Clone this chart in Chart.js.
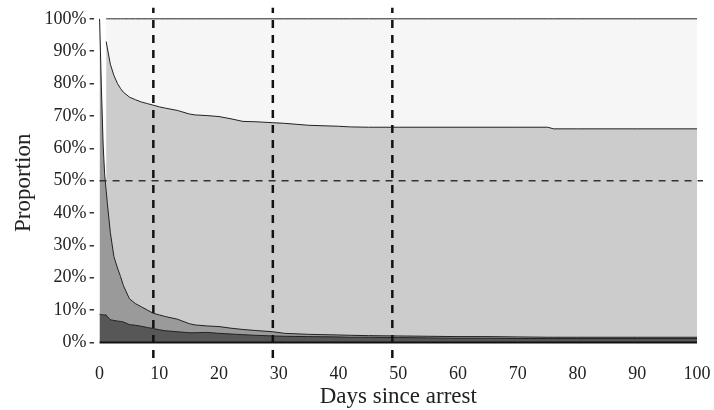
<!DOCTYPE html>
<html lang="en">
<head>
<meta charset="UTF-8">
<title>Proportion by days since arrest</title>
<script src="https://cdn.jsdelivr.net/npm/chart.js"></script>
<style>
  body { margin: 0; background: #fff; }
  canvas { display: block; }
</style>
</head>
<body>

<canvas id="chart" width="714" height="410"></canvas>

<script>
  /*** DATA ***/
  // days since arrest (finer steps in the first two days, where the curves drop fast)
  const days = [0, 0.15, 0.3, 0.45, 0.6, 0.85, 1.1, 1.3, 1.8, 2.4, 3, 3.5, 4, 5, 6, 7, 8, 9, 10, 11,
                13, 15, 16, 18, 20, 22, 24, 26, 29, 31, 35, 40, 42, 45, 50, 55, 60, 65, 70, 75,
                76, 80, 90, 100];

  // cumulative shares (%), bottom band to top band
  const darkTop  = [8.7, 8.6, 8.6, 8.6, 8.5, 8.5, 8.5, 8.0, 7.0, 6.8, 6.6, 6.5, 6.3, 5.5, 5.3, 5.0, 4.6, 4.3, 3.9, 3.6,
                    3.3, 3.0, 3.0, 3.1, 2.8, 2.6, 2.4, 2.2, 2.0, 1.9, 1.8, 1.7, 1.6, 1.6, 1.5, 1.4, 1.3, 1.3, 1.2, 1.2,
                    1.2, 1.2, 1.2, 1.2];
  const midTop   = [100, 90, 79, 70, 61, 52, 47, 43, 34, 26.5, 23, 20.4, 17.5, 13.5, 12, 11, 10, 9, 8.5, 8,
                    7.2, 5.8, 5.4, 5.1, 4.9, 4.4, 4.0, 3.7, 3.3, 2.8, 2.5, 2.3, 2.2, 2.1, 2.0, 1.9, 1.8, 1.8, 1.7, 1.6,
                    1.6, 1.6, 1.6, 1.6];
  const lightTop = [null, null, null, null, null, null, 93, 91, 86, 82.5, 80, 78.5, 77.3, 75.8, 75, 74.3, 73.8, 73.3, 72.8, 72.4,
                    71.7, 70.6, 70.3, 70.1, 69.8, 69.1, 68.3, 68.2, 67.9, 67.7, 67.1, 66.8, 66.6, 66.5, 66.5, 66.5, 66.5, 66.5, 66.5, 66.5,
                    66.0, 66.0, 66.0, 66.0];
  const upperTop = [null, null, null, null, null, null, 100, 100, 100, 100, 100, 100, 100, 100, 100, 100, 100, 100, 100, 100,
                    100, 100, 100, 100, 100, 100, 100, 100, 100, 100, 100, 100, 100, 100, 100, 100, 100, 100, 100, 100,
                    100, 100, 100, 100];

  const markerDays = [9, 29, 49];   // dashed vertical guides
  const halfLine = 50;              // dashed horizontal guide
  const xTicks = [0, 10, 20, 30, 40, 50, 60, 70, 80, 90, 100];
  const yTicks = [0, 10, 20, 30, 40, 50, 60, 70, 80, 90, 100];

  /*** CONFIG ***/
  const X_MIN = -1, X_MAX = 101;
  const Y_MIN = -4.8, Y_MAX = 103.5;
  const SERIF = "'Liberation Serif', 'Times New Roman', serif";
  const TEXT = '#222';

  const pts = (arr) => days.map((d, i) => ({ x: d, y: arr[i] }));

  function band(values, fillColor) {
    return {
      data: pts(values),
      borderColor: '#222',
      borderWidth: 1,
      backgroundColor: fillColor,
      fill: 'origin',
      pointRadius: 0,
      tension: 0,
      spanGaps: false
    };
  }

  function guide(data, width, dash, color) {
    return {
      data: data,
      borderColor: color,
      borderWidth: width,
      borderDash: dash,
      fill: false,
      pointRadius: 0
    };
  }

  // first dataset is drawn on top
  const datasets = [
    ...markerDays.map(d => guide([{ x: d, y: Y_MIN }, { x: d, y: Y_MAX }], 2.5, [8, 7], '#111')),
    guide([{ x: 0, y: halfLine }, { x: X_MAX, y: halfLine }], 1.5, [7, 6], '#333'),
    guide([{ x: 0, y: 0 }, { x: 100, y: 0 }], 2, [], '#111'),
    band(darkTop, '#575757'),
    band(midTop, '#9a9a9a'),
    band(lightTop, '#cccccc'),
    band(upperTop, '#f6f6f6')
  ];

  new Chart(document.getElementById('chart'), {
    type: 'line',
    data: { datasets },
    options: {
      responsive: false,
      animation: false,
      layout: { padding: { top: 7, right: 11, left: 10, bottom: 0 } },
      plugins: { legend: { display: false }, tooltip: { enabled: false } },
      scales: {
        x: {
          type: 'linear',
          min: X_MIN,
          max: X_MAX,
          afterBuildTicks: (s) => { s.ticks = xTicks.map(v => ({ value: v })); },
          grid: { display: false, drawTicks: false, tickLength: 0 },
          border: { display: false },
          ticks: { padding: 0, color: TEXT, font: { family: SERIF, size: 18, lineHeight: 1.78 }, maxRotation: 0 },
          title: { display: true, text: 'Days since arrest', color: TEXT, font: { family: SERIF, size: 23, lineHeight: 1 }, padding: { top: -5, bottom: 2 } }
        },
        y: {
          min: Y_MIN,
          max: Y_MAX,
          afterBuildTicks: (s) => { s.ticks = yTicks.map(v => ({ value: v })); },
          grid: { drawOnChartArea: false, drawTicks: true, tickLength: 4, color: '#333', lineWidth: 1.5 },
          border: { display: false },
          ticks: { padding: 3, color: TEXT, font: { family: SERIF, size: 18, lineHeight: 0.5 }, callback: (v) => v + '%' },
          title: { display: true, text: 'Proportion', color: TEXT, font: { family: SERIF, size: 23 }, padding: { top: 0, bottom: 4 } }
        }
      }
    }
  });
</script>

</body>
</html>
